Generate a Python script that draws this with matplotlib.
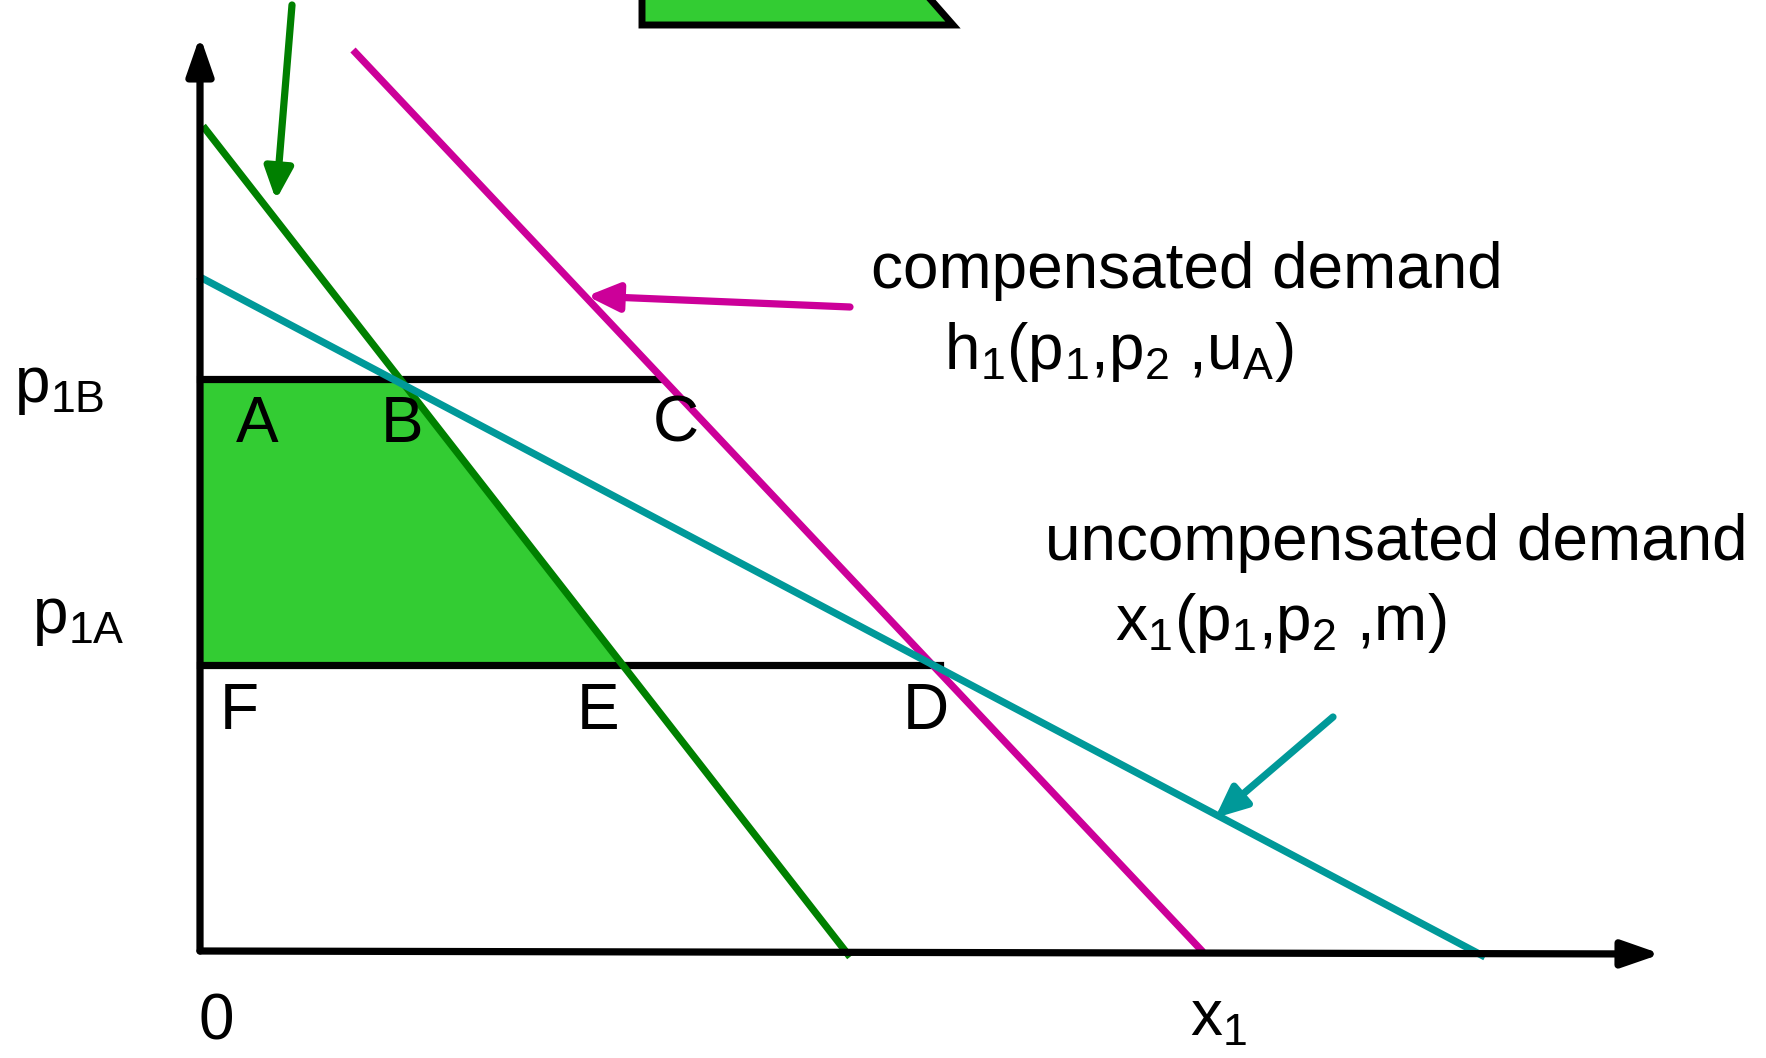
import numpy as np
import matplotlib.pyplot as plt
from matplotlib.patches import Polygon

plt.rcParams['font.family'] = ['Liberation Sans', 'DejaVu Sans']
plt.rcParams['mathtext.fontset'] = 'custom'
plt.rcParams['mathtext.rm'] = 'Liberation Sans'
plt.rcParams['mathtext.it'] = 'Liberation Sans'

# price levels
p1B = 5.72
p1A = 2.86

# demand curves, (x, p) end points
green_x = [0.03, 6.50]
green_p = [8.25, -0.06]
h1_x = [1.53, 10.03]
h1_p = [9.01, -0.01]
x1_x = [-0.02, 12.85]
x1_p = [6.75, -0.06]

# end of the price lines
p1B_end = 4.59
p1A_end = 7.40

# pointer arrows (tail, tip)
green_arrow = [(0.92, 9.46), (0.76, 7.51)]
h1_arrow = [(6.50, 6.44), (3.87, 6.55)]
x1_arrow = [(11.33, 2.34), (10.15, 1.33)]

# axis ends
x_axis_end = (14.61, -0.03)
y_axis_end = (0.0, 9.15)

# cut off box at the top
box_x = [4.42, 4.42, 7.53, 6.88]
box_y = [10.0, 9.26, 9.26, 10.0]

# point labels
pt_labels = ['A', 'B', 'C', 'F', 'E', 'D']
pt_x = [0.57, 2.02, 4.76, 0.39, 3.98, 7.26]
pt_y = [5.095, 5.095, 5.095, 2.22, 2.22, 2.22]

GREEN = '#008000'
MAGENTA = '#CC0099'
TEAL = '#009999'
FILL = '#33CC33'
FS = 46
LW = 5.2

fig = plt.figure(figsize=(17.66, 10.58), dpi=100)
ax = fig.add_axes([0, 0, 1, 1])
ax.set_xlim(-2.0, 15.66)
ax.set_ylim(-1.07, 9.51)
ax.axis('off')


def x_at(xs, ps, p):
    # x of a straight demand line at price p
    return np.interp(p, ps[::-1], xs[::-1])


# shaded area between the two prices, left of the green curve
gx_top = x_at(green_x, green_p, p1B)
gx_bot = x_at(green_x, green_p, p1A)
ax.add_patch(Polygon([(0, p1B), (gx_top, p1B), (gx_bot, p1A), (0, p1A)],
                     closed=True, facecolor=FILL, edgecolor='none', zorder=1))

# price lines
ax.plot([0, p1B_end], [p1B, p1B], color='black', lw=LW, zorder=2)
ax.plot([0, p1A_end], [p1A, p1A], color='black', lw=LW, zorder=2)

# curves
ax.plot(green_x, green_p, color=GREEN, lw=LW, zorder=3, solid_capstyle='butt')
ax.plot(h1_x, h1_p, color=MAGENTA, lw=LW, zorder=3, solid_capstyle='butt')
ax.plot(x1_x, x1_p, color=TEAL, lw=LW, zorder=3, solid_capstyle='butt')

# axes with arrow heads
for end in [x_axis_end, y_axis_end]:
    ax.annotate('', xy=end, xytext=(0, 0),
                arrowprops=dict(arrowstyle='-|>,head_length=2.3,head_width=0.8',
                                color='black', lw=LW, shrinkA=0, shrinkB=0,
                                mutation_scale=10), zorder=4)

# pointer arrows
for (tail, tip), col in [(green_arrow, GREEN), (h1_arrow, MAGENTA), (x1_arrow, TEAL)]:
    ax.annotate('', xy=tip, xytext=tail,
                arrowprops=dict(arrowstyle='-|>,head_length=1.9,head_width=0.85',
                                color=col, lw=LW, shrinkA=0, shrinkB=0,
                                mutation_scale=10), zorder=4)

# partial box at the top
ax.add_patch(Polygon(list(zip(box_x, box_y)), closed=True, facecolor=FILL,
                     edgecolor='black', lw=5, joinstyle='miter', zorder=2))

# labels
for lab, px, py in zip(pt_labels, pt_x, pt_y):
    ax.text(px, py, lab, fontsize=FS, ha='center', va='baseline', zorder=5)

ax.text(0.16, -0.89, '0', fontsize=FS, ha='center', va='baseline')
ax.text(9.90, -0.85, r'$\mathregular{x_1}$', fontsize=FS, ha='left', va='baseline')
ax.text(-1.86, 5.49, r'$\mathregular{p_{1B}}$', fontsize=FS, ha='left', va='baseline')
ax.text(-1.68, 3.18, r'$\mathregular{p_{1A}}$', fontsize=FS, ha='left', va='baseline')

ax.text(6.71, 6.63, 'compensated demand', fontsize=FS, ha='left', va='baseline')
ax.text(7.44, 5.82, r'$\mathregular{h_1(p_1{,}p_2\ {,}u_A)}$', fontsize=FS,
        ha='left', va='baseline')
ax.text(8.45, 3.91, 'uncompensated demand', fontsize=FS, ha='left', va='baseline')
ax.text(9.15, 3.11, r'$\mathregular{x_1(p_1{,}p_2\ {,}m)}$', fontsize=FS,
        ha='left', va='baseline')

fig.savefig('out.png', dpi=100)
